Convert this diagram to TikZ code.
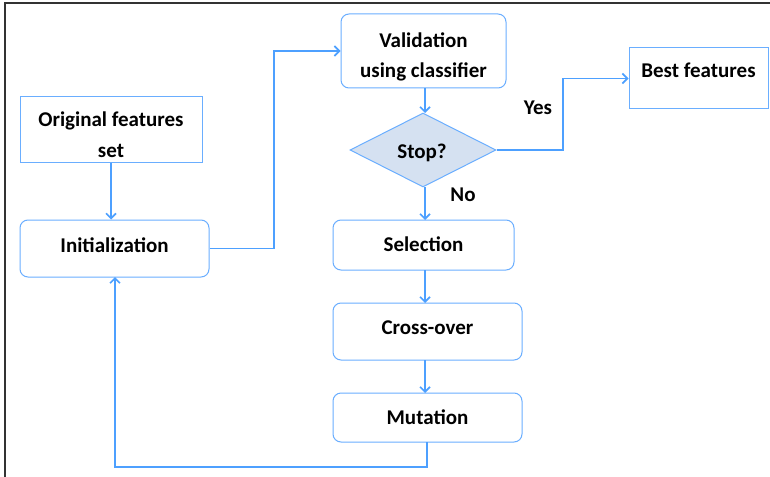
\documentclass[tikz,border=0pt]{standalone}
\usepackage{fontspec}
\setmainfont{Carlito}
\usetikzlibrary{shapes.geometric,arrows.meta}
\definecolor{lineblue}{HTML}{4DA0FF}
\definecolor{boxblue}{HTML}{6AAEFF}
\definecolor{dfill}{HTML}{D5E1F1}
\definecolor{frame}{HTML}{333333}
\tikzset{
  every node/.style={font=\fontsize{21}{26}\selectfont\bfseries, text=black},
  sqbox/.style={draw=boxblue, line width=1pt, inner sep=0pt},
  rbox/.style={draw=boxblue, line width=1pt, rounded corners=8pt, inner sep=0pt},
  conn/.style={draw=lineblue, line width=1.6pt, -{Straight Barb[length=5pt,width=10pt,line width=1.6pt]}},
}
\begin{document}
\begin{tikzpicture}[x=1pt,y=-1pt]
\useasboundingbox (0,0) rectangle (770,476);
\fill[white] (0,0) rectangle (770,476);
\draw[frame, line width=2pt] (4.5,480) -- (4.5,3.5) -- (775,3.5);
% boxes
\node[rbox, minimum width=165pt, minimum height=74pt] (val) at (423.5,51) {};
\node[align=center] (valt) at (423.5,57) {Validation\\[4pt]using classifier};
\node[sqbox, minimum width=182pt, minimum height=65pt] (orig) at (111,129.5) {};
\node[align=center] (origt) at (111,134.5) {Original features\\[5pt]set};
\node[rbox, minimum width=189pt, minimum height=57pt] (init) at (114.5,248.5) {};
\node (initt) at (114.5,245.5) {Initialization};
\node[diamond, draw=boxblue, fill=dfill, line width=1pt, minimum width=146pt, minimum height=74pt, inner sep=0pt] (stop) at (423,150) {};
\node (stopt) at (422,152.5) {Stop?};
\node[sqbox, minimum width=139pt, minimum height=61pt] (best) at (698.5,78.5) {};
\node (bestt) at (698.5,70) {Best features};
\node[rbox, minimum width=181pt, minimum height=50pt] (sel) at (423.5,245) {};
\node (selt) at (423.5,244.5) {Selection};
\node[rbox, minimum width=189pt, minimum height=57pt] (cross) at (427.5,331.5) {};
\node (crosst) at (427.5,327.5) {Cross-over};
\node[rbox, minimum width=189pt, minimum height=49pt] (mut) at (427.5,417.5) {};
\node (mutt) at (427.5,417.5) {Mutation};
% labels
\node (yes) at (538,107.5) {Yes};
\node (no) at (463,194.5) {No};
% connectors
\draw[conn] (orig.south) -- (orig.south |- init.north);
\draw[conn] (init.east) -- (274,248.5) |- (val.west);
\draw[conn] (425,88) -- (425,113);
\draw[conn] (stop.east) -- (563,150) |- (best.west);
\draw[conn] (425,187) -- (425,220);
\draw[conn] (425,270) -- (425,303);
\draw[conn] (425,360) -- (425,393);
\draw[conn] (427,442) -- (427,467) -- (115,467) -- (115,277);
\end{tikzpicture}
\end{document}
